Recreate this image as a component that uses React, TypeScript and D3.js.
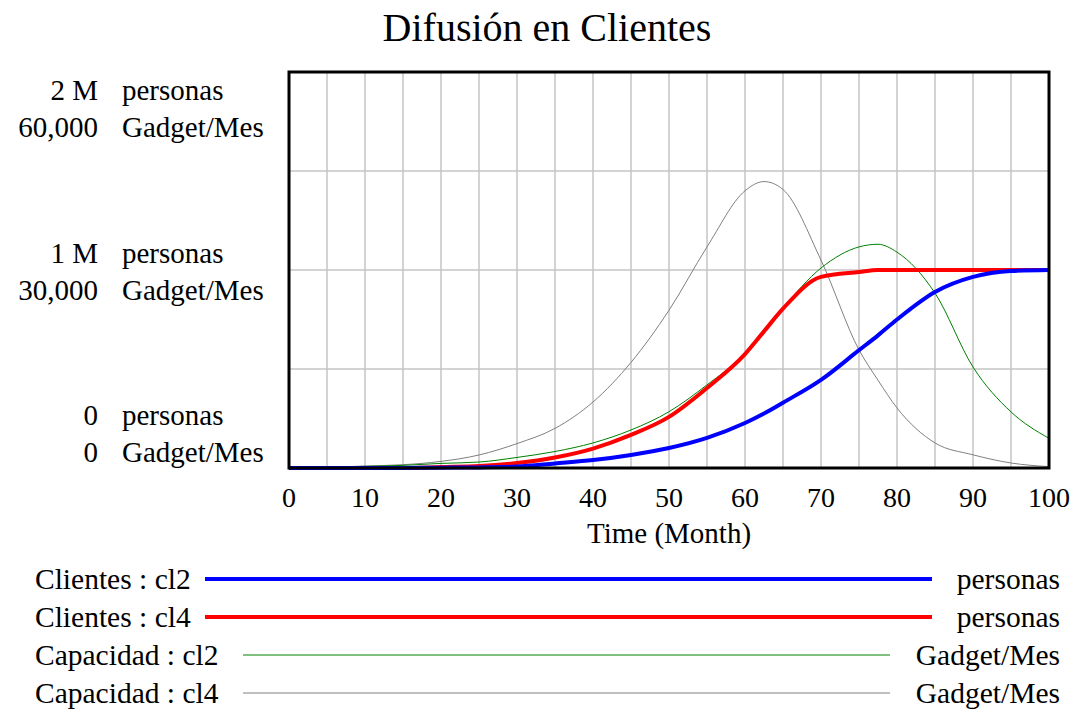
import React, { useEffect, useRef } from 'react';
import * as d3 from 'd3';

// simulation output (months)
const months = [0, 5, 10, 15, 20, 25, 30, 35, 40, 45, 50, 55, 60, 62.5, 65, 70, 75, 77.5, 80, 85, 90, 95, 100];

// personas
const clientesCl2 = [0, 0, 0, 500, 1500, 3000, 7000, 23000, 40000, 66000, 101000, 152000, 227000, 275000, 330000, 445000, 595000, 670000, 750000, 889000, 965000, 995000, 1000000];
const clientesCl4 = [0, 0, 0, 0, 5000, 10000, 25000, 53000, 98000, 167000, 258000, 404000, 575000, 690000, 805000, 965000, 990000, 1000000, 1000000, 1000000, 1000000, 1000000, 1000000];

// Gadget/Mes
const capacidadCl2 = [100, 150, 250, 400, 700, 900, 1600, 2500, 3800, 5760, 8530, 12600, 17400, 20900, 24300, 30300, 33500, 33900, 32700, 26500, 15300, 8500, 4500];
const capacidadCl4 = [0, 100, 300, 500, 1000, 1970, 3700, 6000, 10000, 16000, 23900, 33500, 42000, 43400, 42200, 31500, 17900, 13300, 9100, 3800, 2000, 760, 200];

const timeTicks = [0, 10, 20, 30, 40, 50, 60, 70, 80, 90, 100];
const personTicks = [0, 1000000, 2000000];
const personLabels = ['0', '1 M', '2 M'];
const gadgetLabels = ['0', '30,000', '60,000'];

const legendItems = [
  { name: 'Clientes : cl2', unit: 'personas', color: '#0000ff', width: 4 },
  { name: 'Clientes : cl4', unit: 'personas', color: '#ff0000', width: 4 },
  { name: 'Capacidad : cl2', unit: 'Gadget/Mes', color: '#008000', width: 1 },
  { name: 'Capacidad : cl4', unit: 'Gadget/Mes', color: '#808080', width: 1 },
];

const W = 1074;
const H = 709;
const font = '"Liberation Serif", "Times New Roman", serif';

export default function App() {
  const ref = useRef<SVGSVGElement>(null);

  useEffect(() => {
    const svg = d3.select(ref.current);
    svg.selectAll('*').remove();

    const left = 289, right = 1049, top = 72, bottom = 468;
    const x = d3.scaleLinear().domain([0, 100]).range([left, right]);
    const yP = d3.scaleLinear().domain([0, 2000000]).range([bottom, top]);
    const yG = d3.scaleLinear().domain([0, 60000]).range([bottom, top]);

    svg.append('text')
      .attr('x', 547).attr('y', 41)
      .attr('text-anchor', 'middle')
      .attr('font-size', 40)
      .text('Difusión en Clientes');

    // grid
    const grid = svg.append('g').attr('stroke', '#c4c4c4').attr('stroke-width', 1.5);
    grid.selectAll('line.v')
      .data(d3.range(5, 100, 5))
      .join('line')
      .attr('x1', d => x(d)).attr('x2', d => x(d))
      .attr('y1', top).attr('y2', bottom);
    grid.selectAll('line.h')
      .data(yP.ticks(4).filter(d => d > 0 && d < 2000000))
      .join('line')
      .attr('x1', left).attr('x2', right)
      .attr('y1', d => yP(d)).attr('y2', d => yP(d));

    // series
    const mk = (vals: number[], y: d3.ScaleLinear<number, number>) =>
      d3.line<number>()
        .x((_, i) => x(months[i]))
        .y(d => y(d))
        .curve(d3.curveMonotoneX)(vals);

    const series = [
      { d: mk(capacidadCl4, yG), c: '#808080', w: 1 },
      { d: mk(capacidadCl2, yG), c: '#008000', w: 1 },
      { d: mk(clientesCl4, yP), c: '#ff0000', w: 4 },
      { d: mk(clientesCl2, yP), c: '#0000ff', w: 4 },
    ];
    svg.append('g').selectAll('path')
      .data(series)
      .join('path')
      .attr('d', d => d.d)
      .attr('fill', 'none')
      .attr('stroke', d => d.c)
      .attr('stroke-width', d => d.w)
      .attr('stroke-linejoin', 'round');

    // frame
    svg.append('rect')
      .attr('x', left).attr('y', top)
      .attr('width', right - left).attr('height', bottom - top)
      .attr('fill', 'none').attr('stroke', '#000').attr('stroke-width', 3);

    // x axis labels
    svg.append('g').selectAll('text')
      .data(timeTicks)
      .join('text')
      .attr('x', d => x(d)).attr('y', 507)
      .attr('text-anchor', 'middle')
      .attr('font-size', 28)
      .text(d => d);
    svg.append('text')
      .attr('x', x(50)).attr('y', 543)
      .attr('text-anchor', 'middle')
      .attr('font-size', 29)
      .text('Time (Month)');

    // y axis labels: two scales stacked
    const yl = svg.append('g').attr('font-size', 29);
    personTicks.forEach((v, i) => {
      const b = Math.max(top + 28, Math.min(bottom - 43, yP(v) - 7));
      yl.append('text').attr('x', 98).attr('y', b).attr('text-anchor', 'end').text(personLabels[i]);
      yl.append('text').attr('x', 122).attr('y', b).text('personas');
      yl.append('text').attr('x', 98).attr('y', b + 37).attr('text-anchor', 'end').text(gadgetLabels[i]);
      yl.append('text').attr('x', 122).attr('y', b + 37).text('Gadget/Mes');
    });

    // legend
    const lg = svg.append('g').attr('font-size', 29.5);
    legendItems.forEach((it, i) => {
      const base = 589 + i * 38;
      const thick = it.width > 2;
      lg.append('text').attr('x', 35).attr('y', base).text(it.name);
      lg.append('text').attr('x', 1060).attr('y', base).attr('text-anchor', 'end').text(it.unit);
      lg.append('line')
        .attr('x1', thick ? 205 : 243).attr('x2', thick ? 932 : 890)
        .attr('y1', base - 10).attr('y2', base - 10)
        .attr('stroke', it.color)
        .attr('stroke-width', it.width);
    });
  }, []);

  return (
    <svg
      ref={ref}
      width={W}
      height={H}
      style={{ position: 'absolute', left: 0, top: 0, background: '#fff', fontFamily: font }}
    />
  );
}
